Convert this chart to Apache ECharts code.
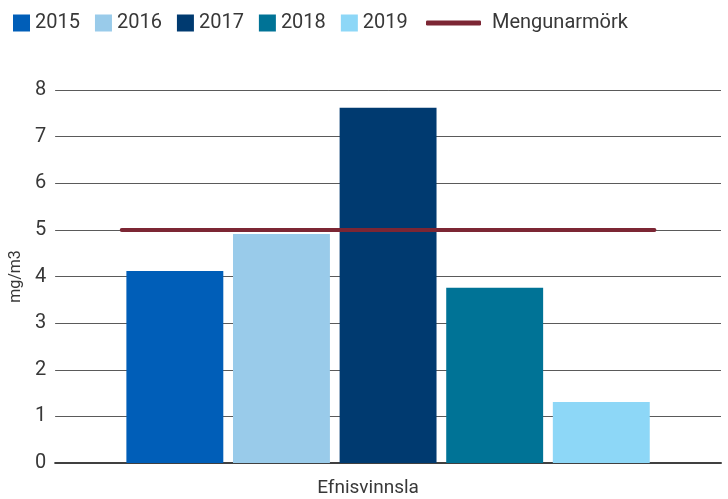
<!DOCTYPE html>
<html>
<head>
<meta charset="utf-8">
<script src="https://cdn.jsdelivr.net/npm/echarts@6/dist/echarts.min.js"></script>
<style>
  html, body { margin: 0; padding: 0; background: #fff; }
  #chart { width: 728px; height: 499px; }
</style>
</head>
<body>
<div id="chart"></div>
<script>
// gögn lesin af myndinni
var category = ['Efnisvinnsla'];
var years = ['2015', '2016', '2017', '2018', '2019'];
var values = [4.12, 4.91, 7.62, 3.76, 1.31];
var limitName = 'Mengunarmörk';
var limitValues = [5, 5, 5, 5, 5];
var yTicks = [0, 1, 2, 3, 4, 5, 6, 7, 8];

var COLORS = ['#005eb8', '#99cbea', '#003a70', '#007396', '#8dd7f7'];
var LIMIT_COLOR = '#7c2634';
var FONT = 'Roboto';

var chart = echarts.init(document.getElementById('chart'));

var series = years.map(function(y, i) {
  return {
    name: y,
    type: 'bar',
    xAxisIndex: 0,
    barGap: '10%',
    barCategoryGap: '21.4%',
    itemStyle: { color: COLORS[i] },
    data: [values[i]]
  };
});

series.push({
  name: limitName,
  type: 'line',
  xAxisIndex: 1,
  symbol: 'none',
  z: 5,
  lineStyle: { color: LIMIT_COLOR, width: 4, cap: 'round' },
  itemStyle: { color: LIMIT_COLOR },
  data: limitValues
});

chart.setOption({
  animation: false,
  textStyle: { fontFamily: FONT },
  legend: [{
    data: years.map(function(y) { return { name: y, icon: 'rect' }; }),
    left: 8,
    top: 8,
    itemWidth: 17,
    itemHeight: 17,
    itemGap: 15,
    textStyle: { fontSize: 20, color: '#383838', fontFamily: FONT }
  }, {
    data: [{ name: limitName, icon: 'roundRect', itemStyle: { color: LIMIT_COLOR } }],
    left: 421,
    top: 8,
    itemWidth: 55,
    itemHeight: 5,
    textStyle: { fontSize: 20, color: '#383838', fontFamily: FONT, padding: [0, 0, 0, 6] }
  }],
  grid: { left: 51, right: 7, top: 90, bottom: 36 },
  xAxis: [{
    type: 'category',
    data: category,
    axisLine: { lineStyle: { color: '#404040', width: 2 } },
    axisTick: { show: false },
    axisLabel: {
      fontSize: 19,
      color: '#383838',
      margin: 16,
      padding: [0, 40, 0, 0]
    }
  }, {
    type: 'category',
    data: years,
    show: false
  }],
  yAxis: {
    type: 'value',
    min: yTicks[0],
    max: yTicks[yTicks.length - 1],
    interval: 1,
    name: 'mg/m3',
    nameLocation: 'middle',
    nameGap: 29,
    nameTextStyle: { fontSize: 16, color: '#383838' },
    axisLine: { show: false },
    axisTick: { show: false },
    axisLabel: { fontSize: 20, color: '#383838', margin: 9 },
    splitLine: { lineStyle: { color: '#5a5a5a', width: 1 } }
  },
  series: series
});
</script>
</body>
</html>
